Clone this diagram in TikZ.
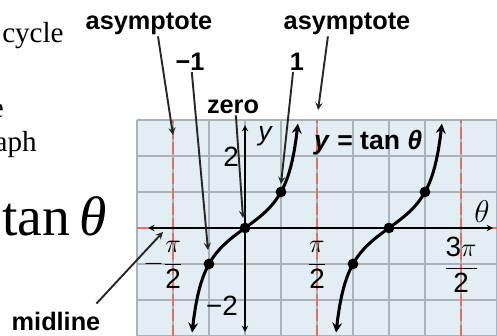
\documentclass[tikz,border=0pt]{standalone}
\usepackage{fontspec}
\usepackage{amsmath}
\setmainfont{Liberation Serif}
\setsansfont{Liberation Sans}
\usetikzlibrary{arrows, positioning, calc}

\definecolor{gridbg}{RGB}{226,238,243}
\definecolor{gridline}{RGB}{168,180,186}
\definecolor{asymred}{RGB}{232,110,98}

\begin{document}
\begin{tikzpicture}[
    note/.style={font=\sffamily\bfseries\fontsize{20}{24}\selectfont, inner sep=1pt},
    noteline/.style={->, >=stealth, line width=1.5pt, black!85},
    asym/.style={asymred, line width=1.3pt, dash pattern=on 9pt off 3pt},
    axis/.style={<->, >=stealth, line width=1.2pt},
    curve/.style={<->, >=stealth, line width=2.4pt},
    dot/.style={circle, fill=black, inner sep=0pt, minimum size=8.5pt},
    tick/.style={font=\sffamily\fontsize{22}{24}\selectfont, inner sep=1pt},
    frac/.style={font=\fontsize{22}{26}\selectfont, inner sep=1pt},
    side/.style={font=\fontsize{23}{26}\selectfont, inner sep=0pt},
    eqn/.style={font=\sffamily\bfseries\fontsize{21}{24}\selectfont, inner sep=1pt}
]

\useasboundingbox (-6.806,-3) rectangle (7,6.333);

% cut-off text at the left
\node[side, anchor=base west] (cyc) at (-6.75,5.139) {cycle};
\node[side, anchor=base east] (ewd) at (-6.694,3.056) {e};
\node[side, anchor=base east] (aph) at (-5.778,2.111) {aph};
\node[font=\fontsize{44}{50}\selectfont, inner sep=0pt, anchor=base west] (tanbig) at (-6.75,-0.222) {tan\,\textit{θ}};

% grid
\fill[gridbg] (-3,-3) rectangle (7,3);
\draw[gridline, line width=0.9pt] (-3,-3) grid (7,3);

% asymptotes and midline
\foreach \a in {-2,2,6}
  \draw[asym] (\a,-3) -- (\a,3);
\draw[asym] (-3,0) -- (7,0);

% axes
\coordinate (xl) at (-2.69,0);
\coordinate (xr) at (6.89,0);
\coordinate (yb) at (0,-2.89);
\coordinate (yt) at (0,2.86);
\draw[axis] (xl) -- (xr);
\draw[axis] (yb) -- (yt);

\node (thlbl) at (6.583,0.444) {\fontsize{24}{28}\selectfont$\theta$};
\node[inner sep=1pt] (ylbl) at (0.556,2.556) {\sffamily\itshape\fontsize{21}{24}\selectfont y};
\node[tick] (ytwo) at (-0.389,1.972) {2};
\node[tick] (ymtwo) at (-0.639,-2.167) {−2};
\node[frac] (npi) at (-2.28,-1.03) {$-\dfrac{\pi}{\mathsf{2}}$};
\node[frac] (ppi) at (2,-1.03) {$\dfrac{\pi}{\mathsf{2}}$};
\node[frac] (tpi) at (6,-1.03) {$\dfrac{\mathsf{3}\pi}{\mathsf{2}}$};

% the two branches
\draw[curve, domain=-1.47:1.47, samples=60] plot (\x, {tan(50.42*\x)/tan(50.42)});
\draw[curve, domain=-1.47:1.47, samples=60] plot ({\x+4}, {tan(50.42*\x)/tan(50.42)});

\foreach \px/\py [count=\i] in {-1/-1, 0/0, 1/1, 3/-1, 4/0, 5/1}
  \node[dot] (p\i) at (\px,\py) {};

\node[eqn] (tanlbl) at (3.42,2.36) {\textit{y} = tan \textit{θ}};

% labels and their arrows
\node[note] (asymlbl1) at (-2.667,5.667) {asymptote};
\node[note] (neglbl) at (-1.528,4.611) {−1};
\node[note] (zerolbl) at (-0.333,3.361) {zero};
\node[note] (onelbl) at (1.444,4.611) {1};
\node[note] (asymlbl2) at (2.833,5.667) {asymptote};
\node[note] (midlbl) at (-5.25,-2.6) {midline};

\coordinate (asymL) at (-2.0,2.583);
\coordinate (negT) at (-1.028,-0.611);
\coordinate (zeroT) at (-0.056,0.278);
\coordinate (oneT) at (1.0,1.222);
\coordinate (asymR) at (2.03,3.28);
\coordinate (midT) at (-2.278,-0.111);

\draw[noteline] ([xshift=0.25cm]asymlbl1.south) -- (asymL);
\draw[noteline] ([xshift=0.05cm]neglbl.south) -- (negT);
\draw[noteline] ([xshift=0.08cm]zerolbl.south) -- (zeroT);
\draw[noteline] ([xshift=-0.11cm]onelbl.south) -- (oneT);
\draw[noteline] ([xshift=-0.53cm]asymlbl2.south) -- (asymR);
\draw[noteline] ([xshift=-0.15cm, yshift=0.2cm]midlbl.north east) -- (midT);

\end{tikzpicture}
\end{document}
